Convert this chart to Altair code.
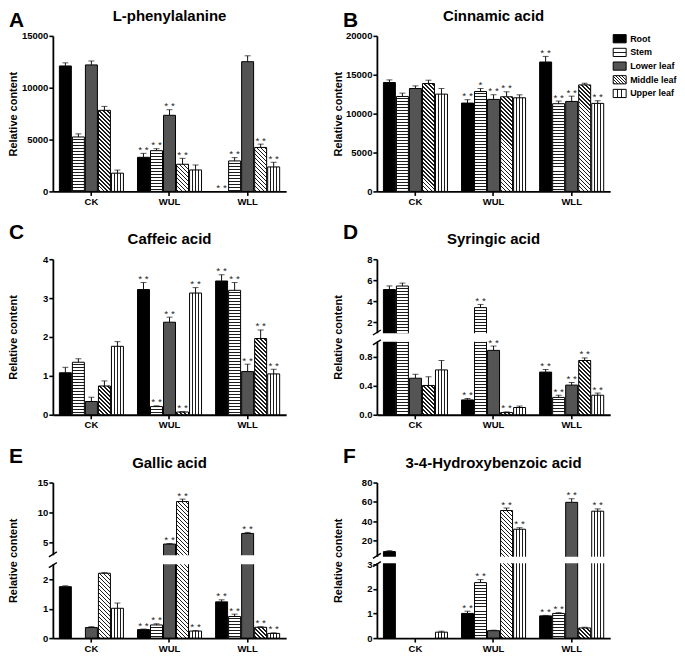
import altair as alt
import numpy as np

FONT = "Liberation Sans"
W = 234          # plot width of every panel
H = 156          # plot height of every panel
XPI, XPO = 0.08, 0.5

GROUPS = ["CK", "WUL", "WLL"]
SERIES = ["Root", "Stem", "Lower leaf", "Middle leaf", "Upper leaf"]

# ---------------- data (order: CK x5, WUL x5, WLL x5; series order as SERIES)
A_TITLE = "L-phenylalanine"
A_VAL = [12100, 5250, 12200, 7820, 1760, 3290, 3930, 7340, 2620, 2070, 0, 2940, 12510, 4240, 2360]
A_ERR = [300, 300, 380, 380, 300, 380, 190, 540, 570, 480, 0, 320, 570, 320, 450]
A_SIG = ["", "", "", "", "", "**", "**", "**", "**", "", "**", "**", "", "**", "**"]
A_TICKS = [0, 5000, 10000, 15000]
A_LABELS = ["0", "5000", "10000", "15000"]

B_TITLE = "Cinnamic acid"
B_VAL = [14000, 12210, 13230, 13870, 12510, 11360, 12850, 11830, 12170, 12040, 16640, 11280, 11570, 13700, 11320]
B_ERR = [340, 430, 340, 430, 720, 430, 380, 600, 640, 380, 720, 340, 680, 210, 340]
B_SIG = ["", "", "", "", "", "**", "*", "**", "**", "", "**", "**", "**", "", "**"]
B_TICKS = [0, 5000, 10000, 15000, 20000]
B_LABELS = ["0", "5000", "10000", "15000", "20000"]

C_TITLE = "Caffeic acid"
C_VAL = [1.08, 1.35, 0.34, 0.74, 1.76, 3.22, 0.21, 2.38, 0.07, 3.13, 3.44, 3.20, 1.11, 1.96, 1.05]
C_ERR = [0.14, 0.09, 0.11, 0.13, 0.12, 0.18, 0.02, 0.13, 0.01, 0.14, 0.16, 0.20, 0.19, 0.22, 0.12]
C_SIG = ["", "", "", "", "", "**", "**", "**", "**", "**", "**", "**", "**", "**", "**"]
C_TICKS = [0, 1, 2, 3, 4]
C_LABELS = ["0", "1", "2", "3", "4"]

D_TITLE = "Syringic acid"
D_VAL = [5.10, 5.44, 0.505, 0.405, 0.62, 0.205, 3.38, 0.89, 0.03, 0.10, 0.59, 0.24, 0.41, 0.75, 0.27]
D_ERR = [0.35, 0.28, 0.055, 0.12, 0.13, 0.02, 0.30, 0.06, 0.01, 0.02, 0.036, 0.03, 0.036, 0.036, 0.03]
D_SIG = ["", "", "", "", "", "**", "**", "**", "**", "", "**", "**", "**", "**", "**"]
D_TICKS = [0, 0.4, 0.8, 2, 4, 6, 8]
D_LABELS = ["0.0", "0.4", "0.8", "2", "4", "6", "8"]
D_BREAK = [1.0, 1.0]

E_TITLE = "Gallic acid"
E_VAL = [1.76, 0, 0.36, 2.22, 1.02, 0.29, 0.45, 4.72, 11.83, 0.24, 1.24, 0.74, 6.50, 0.37, 0.16]
E_ERR = [0.03, 0, 0.03, 0.02, 0.18, 0.02, 0.04, 0.10, 0.40, 0.02, 0.07, 0.08, 0.17, 0.02, 0.02]
E_SIG = ["", "", "", "", "", "**", "**", "**", "**", "**", "**", "**", "**", "**", "**"]
E_TICKS = [0, 1, 2, 5, 10, 15]
E_LABELS = ["0", "1", "2", "5", "10", "15"]
E_BREAK = [2.5, 3.0]

F_TITLE = "3-4-Hydroxybenzoic acid"
F_VAL = [8.4, 0, 0, 0, 0.24, 1.0, 2.25, 0.30, 51.0, 31.6, 0.90, 1.0, 59.5, 0.41, 50.3]
F_ERR = [1.0, 0, 0, 0, 0.04, 0.09, 0.12, 0.02, 2.6, 1.6, 0.02, 0.03, 3.7, 0.03, 2.4]
F_SIG = ["", "", "", "", "", "**", "**", "", "**", "**", "**", "**", "**", "", "**"]
F_TICKS = [0, 1, 2, 3, 20, 40, 60, 80]
F_LABELS = ["0", "1", "2", "3", "20", "40", "60", "80"]
F_BREAK = [3.0, 4.0]

# ---------------- helpers
KEYS = []
for gi, g in enumerate(GROUPS):
    KEYS += [f"{g}|{s}" for s in SERIES]
    if gi < len(GROUPS) - 1:
        KEYS.append(f"gap{gi}")
CENTER_KEYS = [f"{g}|{SERIES[2]}" for g in GROUPS]
STEP = W / (len(KEYS) - XPI + 2 * XPO)
BW = STEP * (1 - XPI)
INK = "#1c1c1c"


def grad(x1, y1, x2, y2, intervals):
    stops = [{"offset": 0, "color": "#ffffff"}]
    last = 0.0
    for a, b in intervals:
        a = round(max(last, min(1.0, a)), 5)
        b = round(max(a, min(1.0, b)), 5)
        stops += [{"offset": a, "color": "#ffffff"}, {"offset": a, "color": INK},
                  {"offset": b, "color": INK}, {"offset": b, "color": "#ffffff"}]
        last = b
    stops.append({"offset": 1, "color": "#ffffff"})
    return {"gradient": "linear", "x1": x1, "y1": y1, "x2": x2, "y2": y2, "stops": stops}


def hstripes(h, period=3.0, lw=1.0):
    if h < 2:
        return "#ffffff"
    iv = [(y / h, (y + lw) / h) for y in np.arange(2.0, h - 1.0, period)]
    return grad(0, 0, 0, 1, iv)


def vstripes(w, n=3, lw=1.0):
    pos = [w * k / (n + 1) for k in range(1, n + 1)]
    return grad(0, 0, 1, 0, [((p - lw / 2) / w, (p + lw / 2) / w) for p in pos])


def diag(w, h, period=4.0, frac=0.38):
    if h < 1:
        return "#ffffff"
    d = w * w + h * h
    iv = []
    for s in np.arange(1.0, w + h, period):
        a = s * w / d
        if a >= 1:
            break
        iv.append((a, (s + period * frac) * w / d))
    return grad(0, 1, 1, 1 - h / w, iv)


def pattern(series, w, h):
    if series == "Root":
        return "#000000"
    if series == "Stem":
        return hstripes(h)
    if series == "Lower leaf":
        return "#545454"
    if series == "Middle leaf":
        return diag(w, h)
    return vstripes(w)


def legend_fill(series):
    if series == "Root":
        return "#000000"
    if series == "Stem":
        return grad(0, 0, 0, 1, [(0.42, 0.6)])
    if series == "Lower leaf":
        return "#545454"
    if series == "Middle leaf":
        return diag(13, 8, period=3.0, frac=0.4)
    return vstripes(13, n=2)


def make_mapper(vmax, brk=None, frac=None):
    if brk is None:
        xp, fp = [0, vmax], [0, H]
    else:
        xp, fp = [0, brk[0], brk[1], vmax], [0, frac[0] * H, frac[1] * H, H]
    return lambda v: float(np.interp(v, xp, fp))


def label_expr(tvals, labels):
    expr = f"'{labels[-1]}'"
    for i in range(len(tvals) - 2, -1, -1):
        mid = (tvals[i] + tvals[i + 1]) / 2
        expr = f"(datum.value < {mid:.4f} ? '{labels[i]}' : {expr})"
    return expr


def make_panel(letter, ldx, ldy, title, vals, errs, sigs, ticks, labels,
               brk=None, frac=None, legend=False):
    m = make_mapper(ticks[-1], brk, frac)
    rows = []
    for i, (v, e, s) in enumerate(zip(vals, errs, sigs)):
        g, ser = GROUPS[i // 5], SERIES[i % 5]
        t = m(v)
        rows.append({"key": f"{g}|{ser}", "series": ser, "v": v, "err": e,
                     "t": t, "top": m(v + e), "sig": " ".join(s),
                     "fill": pattern(ser, BW, t)})
    base = alt.Chart(alt.Data(values=rows))
    tvals = [m(x) for x in ticks]
    yaxis = alt.Axis(values=tvals, labelExpr=label_expr(tvals, labels),
                     title="Relative content", titlePadding=2,
                     minExtent=32, maxExtent=32)
    yscale = alt.Scale(domain=[0, H], nice=False)

    def yenc(field):
        return alt.Y(f"{field}:Q", scale=yscale, axis=yaxis)

    xenc = alt.X("key:N", scale=alt.Scale(domain=KEYS, paddingInner=XPI, paddingOuter=XPO),
                 axis=alt.Axis(values=CENTER_KEYS, labelExpr="split(datum.value, '|')[0]",
                               labelAngle=0, title=None))

    bars = base.transform_filter("datum.v > 0").mark_bar(stroke="#000000", strokeWidth=1).encode(
        x=xenc, y=yenc("t"), fill=alt.Fill("fill:N", scale=None))
    rules = base.transform_filter("datum.err > 0").mark_rule(color="#111111", strokeWidth=1).encode(
        x=xenc, y=yenc("t"), y2="top:Q")
    caps = base.transform_filter("datum.err > 0").mark_tick(
        color="#111111", thickness=1, size=6, orient="horizontal").encode(x=xenc, y=yenc("top"))
    stars = base.transform_filter("datum.sig != ''").mark_text(
        font=FONT, fontSize=10, baseline="alphabetic", color="#222222", dy=-0.5).encode(
        x=xenc, y=yenc("top"), text="sig:N")
    one = alt.Chart(alt.Data(values=[{"k": 0}]))
    letter_layer = one.mark_text(
        text=letter, font=FONT, fontSize=21, fontWeight="bold", align="left",
        baseline="alphabetic", color="#000000").encode(x=alt.value(ldx), y=alt.value(ldy))
    title_layer = one.mark_text(
        text=title, font=FONT, fontSize=15, fontWeight="bold", align="center",
        baseline="alphabetic", color="#000000").encode(x=alt.value(W / 2), y=alt.value(-15))

    layers = [bars, rules, caps]
    if brk is not None:
        tlo, tup = frac[0] * H, frac[1] * H
        gap = alt.Chart(alt.Data(values=[{"g0": tlo + 0.8, "g1": tup - 0.8}])).mark_rect(
            fill="#ffffff").encode(x=alt.value(-3), x2=alt.value(W + 2), y=yenc("g0"), y2="g1:Q")
        marks = alt.Chart(alt.Data(values=[{"ya": tlo - 2.5, "yb": tlo + 2.5},
                                           {"ya": tup - 2.5, "yb": tup + 2.5}])).mark_rule(
            color="#000000", strokeWidth=1.4).encode(
            x=alt.value(-4), x2=alt.value(4), y=yenc("ya"), y2="yb:Q")
        layers += [gap, marks]
    layers += [stars, letter_layer, title_layer]
    panel = alt.layer(*layers)

    if legend:
        leg_rows = [{"series": s, "fill": legend_fill(s)} for s in SERIES]
        leg_y = alt.Y("series:N", scale=alt.Scale(domain=SERIES, range=[-4, 64.6],
                                                  paddingInner=0.4, paddingOuter=0.2), axis=None)
        lb = alt.Chart(alt.Data(values=leg_rows)).mark_bar(stroke="#000000", strokeWidth=1).encode(
            x=alt.value(W + 3), x2=alt.value(W + 16), y=leg_y, fill=alt.Fill("fill:N", scale=None))
        lt = alt.Chart(alt.Data(values=leg_rows)).mark_text(
            font=FONT, fontSize=9, fontWeight="bold", align="left", baseline="middle",
            color="#000000").encode(x=alt.value(W + 20), y=leg_y, text="series:N")
        panel = alt.layer(panel, alt.layer(lb, lt)).resolve_scale(y="independent")

    return panel.properties(width=W, height=H)


pA = make_panel("A", -44, -9, A_TITLE, A_VAL, A_ERR, A_SIG, A_TICKS, A_LABELS)
pB = make_panel("B", -34, -9, B_TITLE, B_VAL, B_ERR, B_SIG, B_TICKS, B_LABELS, legend=True)
pC = make_panel("C", -44, -20, C_TITLE, C_VAL, C_ERR, C_SIG, C_TICKS, C_LABELS)
pD = make_panel("D", -34, -20, D_TITLE, D_VAL, D_ERR, D_SIG, D_TICKS, D_LABELS,
                brk=D_BREAK, frac=[73 / 157, 83 / 157])
pE = make_panel("E", -44, -20, E_TITLE, E_VAL, E_ERR, E_SIG, E_TICKS, E_LABELS,
                brk=E_BREAK, frac=[73.7 / 157, 84.5 / 157])
pF = make_panel("F", -34, -20, F_TITLE, F_VAL, F_ERR, F_SIG, F_TICKS, F_LABELS,
                brk=F_BREAK, frac=[74.7 / 157, 83 / 157])

chart = alt.concat(pA, pB, pC, pD, pE, pF, columns=2, align="each",
                   spacing=alt.RowColnumber(row=16, column=44)).properties(padding=0).configure_view(
    stroke=None).configure_axis(
    domainColor="#000000", domainWidth=1.8, tickColor="#000000", tickWidth=1.6, tickSize=4,
    labelFont=FONT, labelFontSize=9.5, labelFontWeight="bold", labelColor="#000000",
    labelPadding=1, titleFont=FONT, titleFontSize=11, titleFontWeight="bold",
    titleColor="#000000", grid=False)

chart.save("out.html", embed_options={"renderer": "svg", "actions": False})
